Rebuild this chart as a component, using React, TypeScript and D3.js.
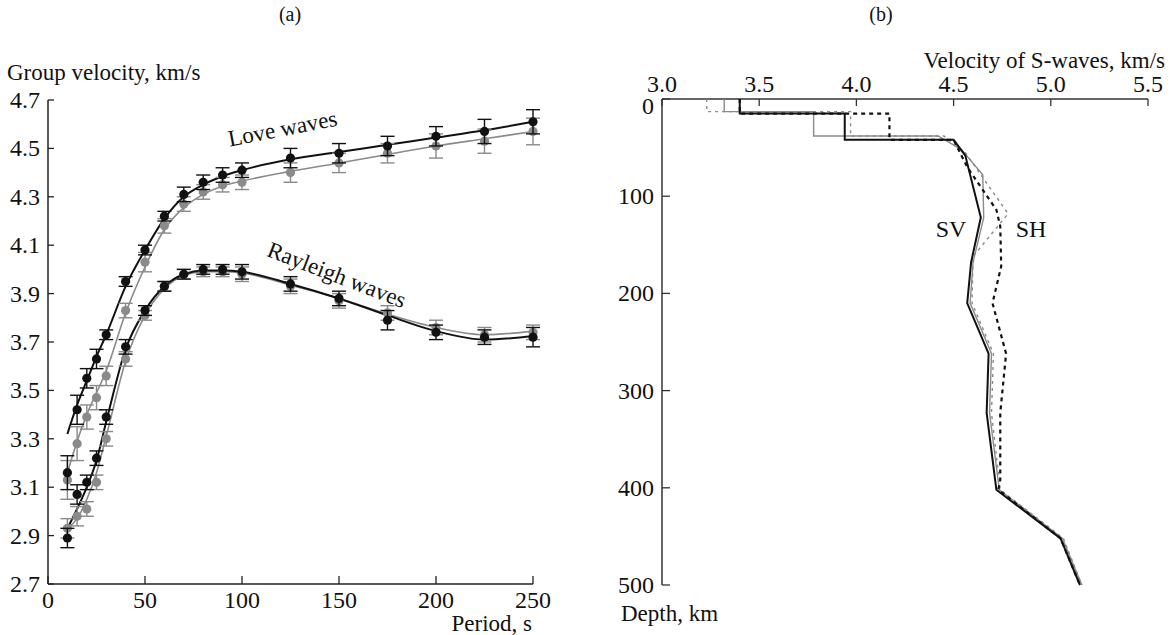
import React from 'react'
import * as d3 from 'd3'

// (a) group velocity dispersion
const periods = [10, 15, 20, 25, 30, 40, 50, 60, 70, 80, 90, 100, 125, 150, 175, 200, 225, 250]

const loveObsBlack = [3.16, 3.42, 3.55, 3.63, 3.73, 3.95, 4.08, 4.22, 4.31, 4.36, 4.39, 4.41, 4.46, 4.48, 4.51, 4.55, 4.57, 4.61]
const loveErrBlack = [0.07, 0.06, 0.04, 0.04, 0.02, 0.02, 0.02, 0.02, 0.03, 0.03, 0.03, 0.03, 0.04, 0.04, 0.04, 0.04, 0.05, 0.05]
const loveObsGray = [3.13, 3.28, 3.39, 3.47, 3.56, 3.83, 4.03, 4.18, 4.27, 4.32, 4.35, 4.36, 4.40, 4.44, 4.48, 4.51, 4.53, 4.57]
const loveErrGray = [0.08, 0.07, 0.05, 0.05, 0.04, 0.03, 0.04, 0.03, 0.03, 0.03, 0.03, 0.03, 0.04, 0.04, 0.04, 0.05, 0.05, 0.055]
const loveFitBlack = [3.32, 3.44, 3.54, 3.64, 3.73, 3.93, 4.08, 4.21, 4.30, 4.35, 4.385, 4.41, 4.455, 4.485, 4.515, 4.545, 4.575, 4.61]
const loveFitGray = [3.16, 3.29, 3.40, 3.49, 3.58, 3.82, 4.01, 4.165, 4.255, 4.31, 4.345, 4.365, 4.405, 4.44, 4.475, 4.51, 4.54, 4.57]

const rayObsBlack = [2.89, 3.07, 3.12, 3.22, 3.39, 3.68, 3.83, 3.93, 3.98, 4.00, 4.00, 3.99, 3.94, 3.88, 3.79, 3.74, 3.72, 3.72]
const rayErrBlack = [0.04, 0.04, 0.03, 0.03, 0.03, 0.03, 0.02, 0.02, 0.02, 0.02, 0.02, 0.03, 0.03, 0.03, 0.04, 0.03, 0.03, 0.04]
const rayObsGray = [2.93, 2.98, 3.01, 3.12, 3.30, 3.63, 3.81, 3.93, 3.98, 3.99, 3.99, 3.98, 3.93, 3.87, 3.82, 3.76, 3.73, 3.74]
const rayErrGray = [0.04, 0.04, 0.03, 0.03, 0.03, 0.03, 0.02, 0.02, 0.02, 0.02, 0.02, 0.03, 0.03, 0.03, 0.03, 0.03, 0.03, 0.03]
const rayFitBlack = [2.93, 3.01, 3.10, 3.21, 3.37, 3.67, 3.83, 3.93, 3.98, 3.995, 3.995, 3.99, 3.94, 3.88, 3.81, 3.745, 3.71, 3.725]
const rayFitGray = [2.93, 2.97, 3.05, 3.16, 3.31, 3.62, 3.81, 3.92, 3.975, 3.99, 3.99, 3.985, 3.935, 3.88, 3.815, 3.76, 3.73, 3.745]

const periodTicks = [0, 50, 100, 150, 200, 250]
const velTicks = [2.7, 2.9, 3.1, 3.3, 3.5, 3.7, 3.9, 4.1, 4.3, 4.5, 4.7]

// (b) S-wave velocity profiles: [velocity, depth]
const svBlack = [[3.40, 0], [3.40, 15], [3.94, 15], [3.94, 42], [4.50, 42], [4.56, 58], [4.64, 122], [4.59, 168], [4.57, 210], [4.68, 262], [4.67, 323], [4.72, 402], [5.05, 452], [5.15, 500]]
const svGray = [[3.32, 0], [3.32, 13], [3.78, 13], [3.78, 38], [4.42, 38], [4.54, 52], [4.65, 78], [4.655, 122], [4.60, 168], [4.585, 210], [4.695, 262], [4.685, 323], [4.735, 402], [5.06, 452], [5.16, 500]]
const shBlack = [[3.40, 0], [3.40, 15], [4.17, 15], [4.17, 42], [4.50, 42], [4.57, 70], [4.72, 114], [4.74, 131], [4.745, 172], [4.70, 210], [4.77, 262], [4.74, 323], [4.74, 392], [4.73, 402], [5.05, 452], [5.15, 500]]
const shGray = [[3.23, 0], [3.23, 13], [3.97, 13], [3.97, 38], [4.45, 38], [4.56, 55], [4.78, 118], [4.60, 162], [4.595, 210], [4.705, 262], [4.695, 323], [4.74, 402], [5.065, 452], [5.16, 500]]

const sTicks = [3.0, 3.5, 4.0, 4.5, 5.0, 5.5]
const depthTicks = [0, 100, 200, 300, 400, 500]

const FONT = '"Liberation Serif", "Times New Roman", serif'
const GRAY = '#8a8a8a'

export default function App() {
  // panel (a)
  const x = d3.scaleLinear().domain([0, 250]).range([48, 533])
  const y = d3.scaleLinear().domain([2.7, 4.7]).range([584, 100])
  const fit = (vals: number[]) =>
    d3.line<number>().x((_, i) => x(periods[i])).y(v => y(v)).curve(d3.curveMonotoneX)(vals) || ''

  // panel (b)
  const vx = d3.scaleLinear().domain([3.0, 5.5]).range([662, 1148])
  const dy = d3.scaleLinear().domain([0, 500]).range([99, 585])
  const prof = d3.line<number[]>().x(d => vx(d[0])).y(d => dy(d[1]))

  const obs = (vals: number[], errs: number[], color: string, key: string) => (
    <g key={key} stroke={color} fill={color}>
      {vals.map((v, i) => (
        <g key={i}>
          <line x1={x(periods[i])} x2={x(periods[i])} y1={y(v - errs[i])} y2={y(v + errs[i])} strokeWidth={1.4} />
          <line x1={x(periods[i]) - 7} x2={x(periods[i]) + 7} y1={y(v - errs[i])} y2={y(v - errs[i])} strokeWidth={1.4} />
          <line x1={x(periods[i]) - 7} x2={x(periods[i]) + 7} y1={y(v + errs[i])} y2={y(v + errs[i])} strokeWidth={1.4} />
          <circle cx={x(periods[i])} cy={y(v)} r={4.6} stroke="none" />
        </g>
      ))}
    </g>
  )

  return (
    <svg width={1170} height={635} style={{ position: 'absolute', left: 0, top: 0, background: '#fff' }}
      fontFamily={FONT} fill="#111">
      <text x={290} y={21} fontSize={20} textAnchor="middle">(a)</text>
      <text x={881} y={21} fontSize={20} textAnchor="middle">(b)</text>

      {/* panel (a) axes */}
      <text x={7} y={80} fontSize={23}>Group velocity, km/s</text>
      <line x1={x(0)} x2={x(0)} y1={y(4.7)} y2={y(2.7)} stroke="#222" strokeWidth={1.5} />
      <line x1={x(0)} x2={x(250)} y1={y(2.7)} y2={y(2.7)} stroke="#222" strokeWidth={1.5} />
      {velTicks.map(t => (
        <g key={t}>
          <line x1={x(0)} x2={x(0) + 6} y1={y(t)} y2={y(t)} stroke="#222" strokeWidth={1.3} />
          <text x={40} y={y(t) + 8} fontSize={24} textAnchor="end">{t.toFixed(1)}</text>
        </g>
      ))}
      {periodTicks.map(t => (
        <g key={t}>
          <line x1={x(t)} x2={x(t)} y1={y(2.7)} y2={y(2.7) - 8} stroke="#222" strokeWidth={1.3} />
          <text x={x(t)} y={608} fontSize={24} textAnchor="middle">{t}</text>
        </g>
      ))}
      <text x={532} y={631} fontSize={23} textAnchor="end">Period, s</text>

      {/* fitted curves */}
      <path d={fit(loveFitGray)} fill="none" stroke={GRAY} strokeWidth={1.6} />
      <path d={fit(rayFitGray)} fill="none" stroke={GRAY} strokeWidth={1.6} />
      <path d={fit(loveFitBlack)} fill="none" stroke="#111" strokeWidth={2} />
      <path d={fit(rayFitBlack)} fill="none" stroke="#111" strokeWidth={2} />

      {obs(loveObsGray, loveErrGray, GRAY, 'lg')}
      {obs(rayObsGray, rayErrGray, GRAY, 'rg')}
      {obs(loveObsBlack, loveErrBlack, '#111', 'lb')}
      {obs(rayObsBlack, rayErrBlack, '#111', 'rb')}

      <text fontSize={23} textAnchor="middle" transform="translate(284,136) rotate(-11)">Love waves</text>
      <text fontSize={23} textAnchor="middle" transform="translate(334,282) rotate(21)">Rayleigh waves</text>

      {/* panel (b) axes */}
      <text x={1165} y={68} fontSize={23} textAnchor="end">Velocity of S-waves, km/s</text>
      <line x1={vx(3.0)} x2={vx(5.5)} y1={dy(0)} y2={dy(0)} stroke="#333" strokeWidth={1.5} />
      <line x1={vx(3.0)} x2={vx(3.0)} y1={dy(0)} y2={dy(500)} stroke="#333" strokeWidth={1.5} />
      {sTicks.map(t => (
        <g key={t}>
          <line x1={vx(t)} x2={vx(t)} y1={dy(0)} y2={dy(0) + 7} stroke="#333" strokeWidth={1.3} />
          <text x={vx(t)} y={92} fontSize={24} textAnchor="middle">{t.toFixed(1)}</text>
        </g>
      ))}
      {depthTicks.map(t => (
        <g key={t}>
          <line x1={vx(3.0)} x2={vx(3.0) + 8} y1={dy(t)} y2={dy(t)} stroke="#333" strokeWidth={1.3} />
          <text x={654} y={dy(t) + (t === 0 ? 15 : 8)} fontSize={24} textAnchor="end">{t}</text>
        </g>
      ))}
      <text x={621} y={621} fontSize={23}>Depth, km</text>

      <path d={prof(svGray as any) || ''} fill="none" stroke={GRAY} strokeWidth={1.4} />
      <path d={prof(shGray as any) || ''} fill="none" stroke={GRAY} strokeWidth={1.4} strokeDasharray="3,4" />
      <path d={prof(shBlack as any) || ''} fill="none" stroke="#111" strokeWidth={2.2} strokeDasharray="4,4" />
      <path d={prof(svBlack as any) || ''} fill="none" stroke="#111" strokeWidth={2} />

      <text x={951} y={237} fontSize={24} textAnchor="middle">SV</text>
      <text x={1031} y={237} fontSize={24} textAnchor="middle">SH</text>
    </svg>
  )
}
